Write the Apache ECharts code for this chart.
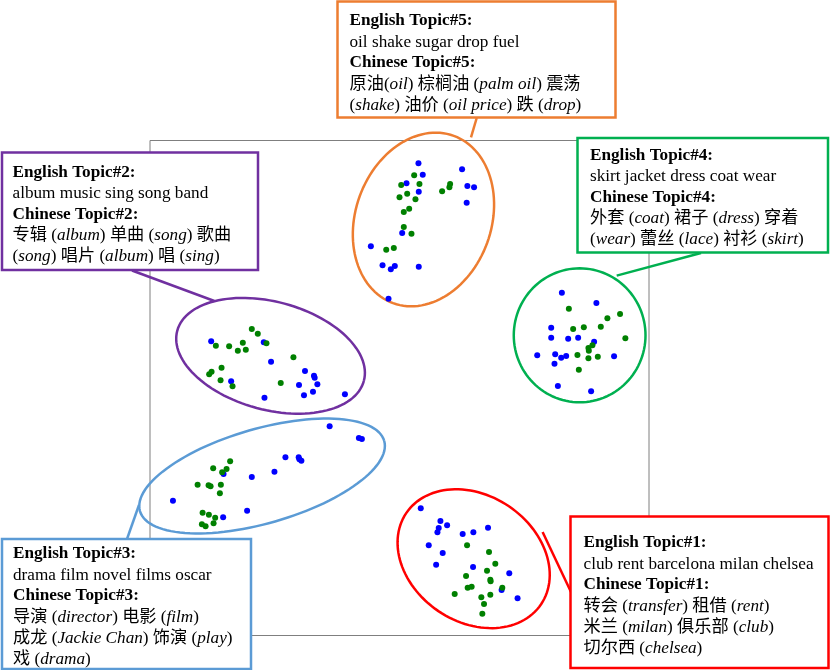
<!DOCTYPE html>
<html><head><meta charset="utf-8">
<script src="https://cdn.jsdelivr.net/npm/echarts@6/dist/echarts.min.js"></script>
<style>html,body{margin:0;padding:0;background:#fff}#c{width:830px;height:670px}</style>
</head><body><div id="c"></div>
<script>
// ---------------- DATA ----------------
// Topic names (five topics)
const topicNames = ['Topic#1', 'Topic#2', 'Topic#3', 'Topic#4', 'Topic#5'];

// Blue points per topic cluster
const blueTopic1 = [[271.3,127.2],[291,114.5],[297.7,110.2],[289.3,107.5],[288,103.2],[313.3,101.5],[324,103.2],[338.7,107.8],[279.3,90.2],[293.3,82.5],[286.7,70.8],[323.7,68.5],[360,62.2],[352.3,45.5],[368.3,37.2]];
const blueTopic2 = [[61.3,294.2],[114,293.2],[121.3,273.8],[155.3,264.5],[164.3,259.8],[165,257.8],[167.7,251.2],[149.3,250.5],[81.3,254.2],[114.7,237.8],[154.3,240.2],[163.3,243.8],[195.3,241.2]];
const blueTopic3 = [[180,209.2],[209.3,197.5],[212.3,196.5],[135.7,178.2],[149,178.2],[149.7,176.2],[151.7,174.8],[124.7,163.8],[102,158.5],[73.7,161.5],[23,134.8],[97.3,124.8],[73.3,118.2]];
const blueTopic4 = [[412.7,342.8],[447.3,332.5],[402,307.8],[402,297.8],[419,296.8],[429,297.8],[445,293.8],[388,280.2],[406,281.2],[412,277.8],[417,279.5],[405.3,271.8],[465,279.2],[408.7,249.5],[442,244.2]];
const blueTopic5 = [[269,472.2],[273.3,460.8],[257,452.2],[269.3,443.8],[312.7,466.2],[318,449.5],[324.7,448.2],[317.3,432.8],[252.7,402.5],[221.3,389.2],[233,370.2],[241.3,366.2],[245.3,369.5],[269.3,368.8],[239,336.8]];

// Green points per topic cluster
const greenTopic1 = [[317.7,90.2],[339.7,83.5],[346,71.8],[337.7,64.8],[316.7,59.5],[341,55.8],[341.3,54.2],[318.3,47.8],[322.3,48.8],[353,47.8],[305.3,41.5],[332,38.2],[341,40.8],[334.7,31.5],[333,21.8]];
const greenTopic2 = [[102,306.5],[108,301.8],[66,289.8],[79.3,289.2],[93,292.8],[88,284.8],[96,285.8],[116.7,292.2],[143.7,278.2],[71.7,267.8],[61.7,263.8],[59.3,261.2],[70.7,255.2],[82.7,249.2],[131,252.5]];
const greenTopic3 = [[80.3,174.2],[63.3,167.2],[76.7,166.5],[72.3,163.2],[47.7,150.8],[58.7,150.2],[60.7,149.2],[71,150.8],[70,142.2],[52.7,122.8],[59,120.8],[65.3,117.8],[63.7,112.2],[52,111.2],[55.7,109.2]];
const greenTopic4 = [[419.7,326.8],[471,321.5],[458.3,317.2],[434.7,308.2],[424,306.5],[451.7,308.8],[476.3,297.2],[443.3,290.2],[439.3,287.5],[439.7,284.8],[428.3,280.5],[439.3,277.2],[448.7,278.8],[429.7,265.8]];
const greenTopic5 = [[264.7,460.2],[251.7,450.5],[270,451.5],[257.7,441.8],[250,438.2],[266,436.2],[259.7,426.8],[254.3,423.5],[254.3,408.5],[262,401.8],[236.7,385.8],[244.3,387.5],[300.7,451.5],[300,448.2],[292.7,444.2]];

// Topic word lists (text of the annotation boxes); *x* = italic
const englishWords = [
  'club rent barcelona milan chelsea',
  'album music sing song band',
  'drama film novel films oscar',
  'skirt jacket dress coat wear',
  'oil shake sugar drop fuel'
];
const chineseWords = [
  ['转会 (*transfer*) 租借 (*rent*)', '米兰 (*milan*) 俱乐部 (*club*)', '切尔西 (*chelsea*)'],
  ['专辑 (*album*) 单曲 (*song*) 歌曲', '(*song*) 唱片 (*album*) 唱 (*sing*)'],
  ['导演 (*director*) 电影 (*film*)', '成龙 (*Jackie Chan*) 饰演 (*play*)', '戏 (*drama*)'],
  ['外套 (*coat*) 裙子 (*dress*) 穿着', '(*wear*) 蕾丝 (*lace*) 衬衫 (*skirt*)'],
  ['原油(*oil*) 棕榈油 (*palm oil*) 震荡', '(*shake*) 油价 (*oil price*) 跌 (*drop*)']
];

// ---------------- LAYOUT / STYLE ----------------
const topicColors = ['#FF0000', '#7030A0', '#5B9BD5', '#00B050', '#ED7D31'];
// cluster ellipses in axis units: [cx, cy, semiAxis1, semiAxis2, angleDeg]
const ellipseGeom = [
  [324.3, 76.8, 81.5, 63.2, -34],
  [120.8, 279.7, 96.8, 54, -15],
  [112.3, 159.5, 127.3, 47.3, 16],
  [430.5, 300.2, 66, 67, 0],
  [274, 416, 89, 68, 70]
];
const boxes = [
  {x: 570.5, y: 516.5, w: 258, h: 151.5, tx: 583.5, ty: 532.5, line: [542.6, 532, 571, 592]},
  {x: 2, y: 152.5, w: 256, h: 117.5, tx: 12.5, ty: 162, line: [214.4, 301, 132, 270.5]},
  {x: 2, y: 539, w: 249, h: 130, tx: 13, ty: 543.5, line: [139, 505, 127, 539]},
  {x: 577.5, y: 138, w: 250.5, h: 114.5, tx: 590, ty: 145, line: [616.7, 275.6, 701, 253]},
  {x: 337.5, y: 1.5, w: 278, h: 116, tx: 349.5, ty: 10.5, line: [471, 137.3, 476.7, 118]}
];

const FF = "'Liberation Serif','Noto Sans CJK SC',serif";
const FS = 17.2;
const LH = 21;

function toRich(s) { return s.replace(/\*([^*]+)\*/g, '{i|$1}'); }

const blueAll = [].concat(blueTopic1, blueTopic2, blueTopic3, blueTopic4, blueTopic5);
const greenAll = [].concat(greenTopic1, greenTopic2, greenTopic3, greenTopic4, greenTopic5);

const graphics = [];
boxes.forEach(function (b, k) {
  graphics.push({type: 'line', z: 100, shape: {x1: b.line[0], y1: b.line[1], x2: b.line[2], y2: b.line[3]},
    style: {stroke: topicColors[k], lineWidth: 2.5}});
  graphics.push({type: 'rect', z: 101, shape: {x: b.x, y: b.y, width: b.w, height: b.h},
    style: {fill: '#fff', stroke: topicColors[k], lineWidth: 2.5}});
  const lines = ['{b|English ' + topicNames[k] + ':}', englishWords[k], '{b|Chinese ' + topicNames[k] + ':}']
    .concat(chineseWords[k].map(toRich));
  graphics.push({type: 'text', z: 102, x: b.tx, y: b.ty,
    style: {text: lines.join('\n'), fill: '#000', fontSize: FS, fontFamily: FF, lineHeight: LH,
      verticalAlign: 'top', align: 'left',
      rich: {
        b: {fontWeight: 'bold', fontSize: FS, fontFamily: FF, lineHeight: LH, fill: '#000'},
        i: {fontStyle: 'italic', fontSize: FS, fontFamily: FF, lineHeight: LH, fill: '#000'}
      }}});
});

const chart = echarts.init(document.getElementById('c'), null, {renderer: 'canvas'});
chart.setOption({
  animation: false,
  backgroundColor: '#fff',
  grid: {left: 150, top: 140.5, width: 499, height: 495, show: true, borderColor: '#7f7f7f', borderWidth: 1, backgroundColor: 'transparent'},
  xAxis: {type: 'value', min: 0, max: 500, show: false},
  yAxis: {type: 'value', min: 0, max: 495, show: false},
  series: [
    {type: 'custom', name: 'clusters', z: 1, silent: true,
      data: ellipseGeom,
      renderItem: function (params, api) {
        const cx = api.value(0), cy = api.value(1), ra = api.value(2), rb = api.value(3);
        const ang = api.value(4) * Math.PI / 180;
        const pts = [];
        for (let k = 0; k <= 120; k++) {
          const t = k / 120 * 2 * Math.PI;
          const dx = ra * Math.cos(t), dy = rb * Math.sin(t);
          pts.push(api.coord([cx + dx * Math.cos(ang) - dy * Math.sin(ang), cy + dx * Math.sin(ang) + dy * Math.cos(ang)]));
        }
        return {type: 'polyline', shape: {points: pts}, style: {stroke: topicColors[params.dataIndex], fill: 'none', lineWidth: 2.5}};
      }},
    {type: 'scatter', name: 'English', data: blueAll, symbolSize: 6, itemStyle: {color: '#0000FF', opacity: 1}, z: 3},
    {type: 'scatter', name: 'Chinese', data: greenAll, symbolSize: 6, itemStyle: {color: '#008000', opacity: 1}, z: 4}
  ],
  graphic: graphics
});
</script>
</body></html>
